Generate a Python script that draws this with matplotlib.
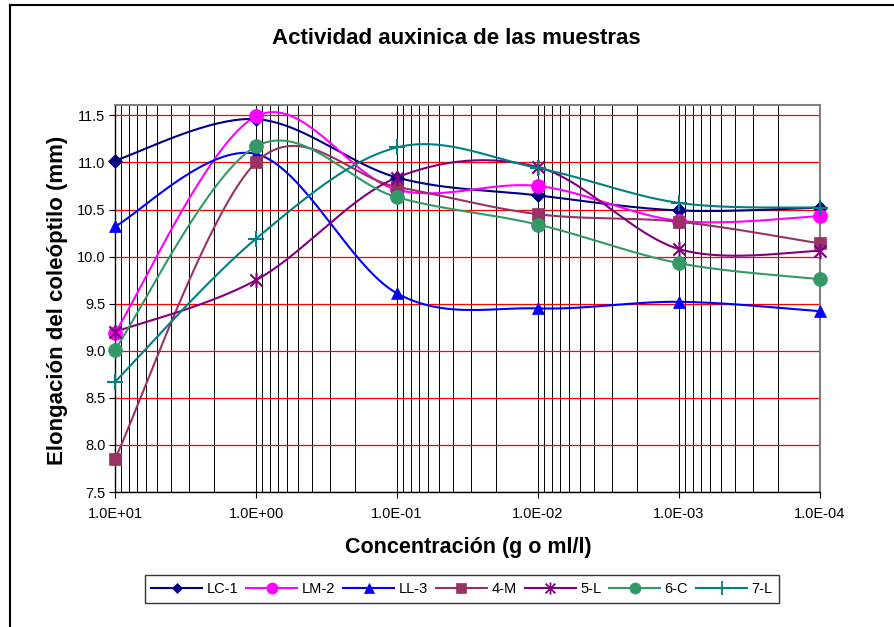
import numpy as np
import matplotlib
matplotlib.use("Agg")
import matplotlib.pyplot as plt
from matplotlib.lines import Line2D
from matplotlib.path import Path
from matplotlib.ticker import FixedLocator, LogLocator, NullFormatter, FixedFormatter

plt.rcParams['font.family'] = ['Liberation Sans', 'DejaVu Sans']

# Concentrations (g o ml/l)
concentracion = [10.0, 1.0, 0.1, 0.01, 0.001, 0.0001]
x_tick_labels = ["1.0E+01", "1.0E+00", "1.0E-01", "1.0E-02", "1.0E-03", "1.0E-04"]

# Coleoptile elongation (mm) per sample
lc1 = [11.02, 11.46, 10.84, 10.65, 10.49, 10.52]
lm2 = [9.19, 11.49, 10.71, 10.75, 10.38, 10.43]
ll3 = [10.32, 11.09, 9.61, 9.45, 9.52, 9.42]
m4 = [7.85, 11.00, 10.74, 10.45, 10.37, 10.14]
l5 = [9.20, 9.75, 10.84, 10.95, 10.08, 10.06]
c6 = [9.01, 11.17, 10.63, 10.34, 9.93, 9.76]
l7 = [8.67, 10.19, 11.16, 10.94, 10.57, 10.52]

series_names = ["LC-1", "LM-2", "LL-3", "4-M", "5-L", "6-C", "7-L"]
series_values = [lc1, lm2, ll3, m4, l5, c6, l7]
series_colors = ["#000080", "#FF00FF", "#0000FF", "#993366", "#800080", "#339966", "#008080"]

# Asterisk-style marker: an X crossed by a vertical bar
star_path = Path(
    [(-1, -1), (1, 1), (-1, 1), (1, -1), (0, -1.25), (0, 1.25)],
    [Path.MOVETO, Path.LINETO, Path.MOVETO, Path.LINETO, Path.MOVETO, Path.LINETO],
)

series_markers = ["D", "o", "^", "s", star_path, "o", "+"]
series_msize = [7, 10, 9, 9, 11, 10, 12]


def smooth_curve(xs, ys, n=40):
    """Bezier smoothing through the points in (log10 x, y) space."""
    u = np.log10(np.asarray(xs, dtype=float))
    v = np.asarray(ys, dtype=float)
    pts = np.column_stack([u, v])
    out = []
    m = len(pts)
    for i in range(m - 1):
        p0 = pts[i - 1] if i > 0 else pts[i]
        p1 = pts[i]
        p2 = pts[i + 1]
        p3 = pts[i + 2] if i + 2 < m else pts[i + 1]
        c1 = p1 + (p2 - p0) / 6.0
        c2 = p2 - (p3 - p1) / 6.0
        t = np.linspace(0, 1, n)[:, None]
        seg = ((1 - t) ** 3) * p1 + 3 * ((1 - t) ** 2) * t * c1 + 3 * (1 - t) * t ** 2 * c2 + t ** 3 * p2
        out.append(seg if i == 0 else seg[1:])
    seg = np.vstack(out)
    return 10 ** seg[:, 0], seg[:, 1]


fig = plt.figure(figsize=(8.94, 6.27), dpi=100)
ax = fig.add_axes([115 / 894, 1 - 492 / 627, (820 - 115) / 894, (492 - 105) / 627])

ax.set_xscale("log")
ax.set_xlim(10, 1e-4)
ax.set_ylim(7.5, 11.61)

# Grid
ax.xaxis.set_major_locator(FixedLocator(concentracion))
ax.xaxis.set_major_formatter(FixedFormatter(x_tick_labels))
ax.xaxis.set_minor_locator(LogLocator(base=10, subs=np.arange(2, 10)))
ax.xaxis.set_minor_formatter(NullFormatter())
ax.set_yticks(np.arange(7.5, 11.51, 0.5))
ax.set_yticklabels([f"{v:.1f}" for v in np.arange(7.5, 11.51, 0.5)])
ax.grid(True, axis="x", which="both", color="black", linewidth=0.7)
ax.grid(True, axis="y", which="major", color="#FF0000", linewidth=0.9)
ax.set_axisbelow(True)

ax.tick_params(axis="both", which="major", direction="out", length=4, width=0.8,
               labelsize=10.5, colors="black", pad=3)
ax.tick_params(axis="x", which="minor", length=0)
ax.tick_params(axis="x", which="major", pad=7)

for side in ("top", "right"):
    ax.spines[side].set_color("#808080")
    ax.spines[side].set_linewidth(1.5)
for side in ("left", "bottom"):
    ax.spines[side].set_color("black")
    ax.spines[side].set_linewidth(1.0)

handles = []
for name, vals, col, mk, ms in zip(series_names, series_values, series_colors,
                                   series_markers, series_msize):
    sx, sy = smooth_curve(concentracion, vals)
    ax.plot(sx, sy, color=col, linewidth=1.5, zorder=3, clip_on=False)
    hollow = mk in ("+",) or mk is star_path
    ax.plot(concentracion, vals, linestyle="none", marker=mk, markersize=ms,
            color=col, markeredgecolor=col, markeredgewidth=1.5 if hollow else 0.5,
            zorder=4, clip_on=False)
    handles.append(Line2D([], [], color=col, linewidth=1.5, marker=mk,
                          markersize=ms * 0.8, markeredgecolor=col,
                          markeredgewidth=1.3 if hollow else 0.5, label=name))

fig.text(456 / 894, 1 - 38 / 627, "Actividad auxinica de las muestras",
         ha="center", va="center", fontsize=16, fontweight="bold")
fig.text(57 / 894, 1 - 300 / 627, "Elongación del coleóptilo (mm)",
         ha="center", va="center", rotation=90, fontsize=16, fontweight="bold")
fig.text(468 / 894, 1 - 548 / 627, "Concentración (g o ml/l)",
         ha="center", va="center", fontsize=15.5, fontweight="bold")

leg = fig.legend(handles=handles, loc="center", bbox_to_anchor=(462 / 894, 1 - 589 / 627),
                 ncol=7, frameon=True, fancybox=False, fontsize=10.5,
                 handlelength=3.5, columnspacing=0.55, handletextpad=0.3,
                 borderpad=0.45, edgecolor="black")
leg.get_frame().set_linewidth(1.0)

# Outer chart border (left and top edges)
fig.add_artist(Line2D([10 / 894, 10 / 894], [0, 1 - 5 / 627], color="black", linewidth=1.5,
                      transform=fig.transFigure))
fig.add_artist(Line2D([10 / 894, 1], [1 - 5 / 627, 1 - 5 / 627], color="black", linewidth=1.5,
                      transform=fig.transFigure))

fig.savefig("out.png", dpi=100)
